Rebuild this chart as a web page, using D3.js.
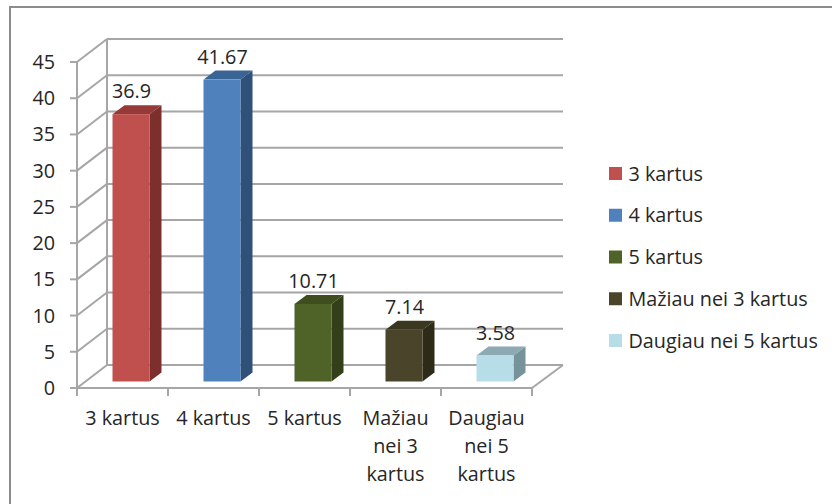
<!DOCTYPE html>
<html><head><meta charset="utf-8">
<script src="https://cdn.jsdelivr.net/npm/d3@7"></script>
<style>html,body{margin:0;padding:0;background:#fff}svg{display:block}text{font-family:"Open Sans",Lato,sans-serif;fill:#262626}</style>
</head><body><svg width="832" height="504"></svg>
<script>
const categories = ["3 kartus","4 kartus","5 kartus","Mažiau nei 3 kartus","Daugiau nei 5 kartus"];
const values = [36.9,41.67,10.71,7.14,3.58];
const valueLabels = ["36.9","41.67","10.71","7.14","3.58"];
const axisLabelLines = [["3 kartus"],["4 kartus"],["5 kartus"],["Mažiau","nei 3","kartus"],["Daugiau","nei 5","kartus"]];
const yTicks = [0,5,10,15,20,25,30,35,40,45];
const frontColors = ["#C0504D","#4F81BD","#4F6228","#4A452A","#B7DEE8"];
const sideColors = ["#7D2F2D","#2F5078","#323F18","#2E2A19","#78929A"];
const topColors = ["#953A38","#3B6496","#3E4E1E","#3A361F","#8DAAB4"];

const svg = d3.select("svg");
const fs = 19.8, grid = "#a6a6a6";
const y = d3.scaleLinear().domain([0,45]).range([388,62]);
const x = d3.scaleBand().domain(categories).range([77,532]);
const dx = 30, dy = -23;        // wall depth
const bdx = 12, bdy = -9;       // bar depth
const barW = 37, barShiftX = 8.5, barShiftY = -6.5;

svg.append("rect").attr("x",10).attr("y",7).attr("width",830).attr("height",510)
  .attr("fill","#fff").attr("stroke","#8c8c8c").attr("stroke-width",2);

const line = (x1,y1,x2,y2)=>svg.append("line").attr("x1",x1).attr("y1",y1).attr("x2",x2).attr("y2",y2)
  .attr("stroke",grid).attr("stroke-width",2);

yTicks.forEach(t=>{
  line(77,y(t),77+dx,y(t)+dy);
  line(77+dx,y(t)+dy,532+dx+1,y(t)+dy);
  line(70,y(t),77,y(t));
  svg.append("text").attr("x",55).attr("y",y(t)+7).attr("text-anchor","end").attr("font-size",fs).text(t);
});
line(107,y(45)+dy,107,y(0)+dy);
line(77,y(0),77,y(45));
line(77,y(0),532,y(0));
line(532,y(0),532+dx+1,y(0)+dy);
x.domain().concat([null]).forEach(c=>{
  const px = c===null ? x.range()[1] : x(c);
  line(px,y(0),px,y(0)+8);
});

categories.forEach((c,i)=>{
  const x0 = x(c)+x.bandwidth()/2+barShiftX-barW/2, x1 = x0+barW;
  const b = y(0)+barShiftY, t = y(values[i])+barShiftY;
  const poly = (pts,col)=>svg.append("polygon").attr("points",pts.map(p=>p.join(",")).join(" ")).attr("fill",col);
  poly([[x1,t],[x1+bdx,t+bdy],[x1+bdx,b+bdy],[x1,b]],sideColors[i]);
  poly([[x0,t],[x0+bdx,t+bdy],[x1+bdx,t+bdy],[x1,t]],topColors[i]);
  svg.append("rect").attr("x",x0).attr("y",t).attr("width",barW).attr("height",b-t).attr("fill",frontColors[i]);
  svg.append("text").attr("x",(x0+x1)/2+0.5).attr("y",t+bdy-7).attr("text-anchor","middle").attr("font-size",fs).text(valueLabels[i]);
  axisLabelLines[i].forEach((s,j)=>{
    svg.append("text").attr("x",x(c)+x.bandwidth()/2).attr("y",425+j*28).attr("text-anchor","middle").attr("font-size",fs).text(s);
  });
});

categories.forEach((c,i)=>{
  const ly = d3.scalePoint().domain(categories).range([173.5,340.5])(c);
  svg.append("rect").attr("x",609).attr("y",ly-6.5).attr("width",13).attr("height",13).attr("fill",frontColors[i]);
  svg.append("text").attr("x",628.5).attr("y",ly+7).attr("font-size",fs).text(c);
});
</script></body></html>
